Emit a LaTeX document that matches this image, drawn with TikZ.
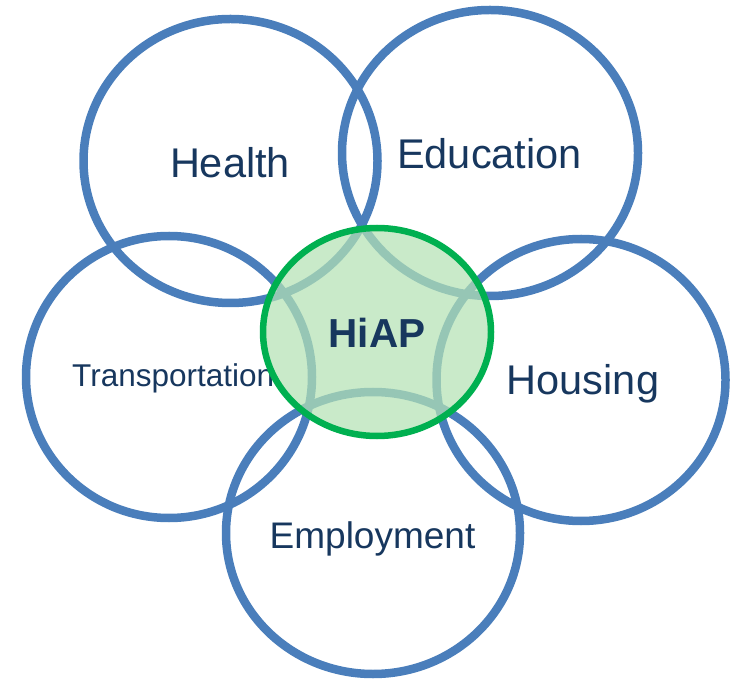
\documentclass[tikz,border=0pt]{standalone}
\usepackage{fontspec}
\setmainfont{Liberation Sans}
\usetikzlibrary{shapes.geometric}
\definecolor{ringblue}{RGB}{74,126,187}
\definecolor{hiapgreen}{RGB}{0,176,80}
\definecolor{hiapfill}{RGB}{180,226,180}
\definecolor{labelnavy}{RGB}{23,55,94}
\tikzset{
  ring/.style={ellipse, draw=ringblue, line width=8.5pt, inner sep=0pt},
  hub/.style={ellipse, draw=hiapgreen, line width=6.5pt, fill=hiapfill, fill opacity=0.72, draw opacity=1, inner sep=0pt},
  lbl/.style={text=labelnavy, inner sep=0pt, anchor=base},
}
\begin{document}
\begin{tikzpicture}[x=1pt,y=1pt]
\useasboundingbox (0,0) rectangle (743,683);
% outer rings
\node[ring, minimum width=294pt, minimum height=284pt] (health) at (230.5,522) {};
\node[ring, minimum width=296pt, minimum height=286pt] (education) at (490,530) {};
\node[ring, minimum width=286pt, minimum height=282pt] (transport) at (169,306) {};
\node[ring, minimum width=289pt, minimum height=282pt] (housing) at (581,303) {};
\node[ring, minimum width=294pt, minimum height=282pt] (employment) at (373,150) {};
% labels
\node[lbl, font=\fontsize{41.5}{41.5}\selectfont] (thealth) at (230,505.3) {Health};
\node[lbl, font=\fontsize{41.5}{41.5}\selectfont] (teducation) at (489.5,514) {Education};
\node[lbl, font=\fontsize{41.5}{41.5}\selectfont] (thousing) at (583,289) {Housing};
\node[lbl, font=\fontsize{37}{37}\selectfont] (temployment) at (372.5,135) {Employment};
\node[lbl, anchor=base west, font=\fontsize{31.5}{31.5}\selectfont] (ttransport) at (72,296) {Transportation};
% hub
\node[hub, minimum width=228pt, minimum height=208pt] (hiap) at (377,351) {};
\node[lbl, font=\fontsize{40.5}{40.5}\selectfont\bfseries] (thiap) at (377,335) {HiAP};
\end{tikzpicture}
\end{document}
